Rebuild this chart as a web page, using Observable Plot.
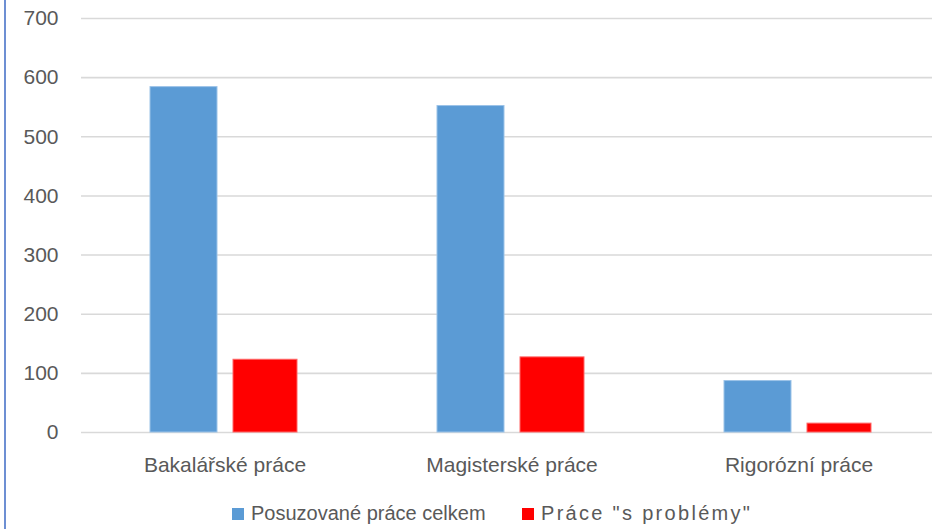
<!DOCTYPE html>
<html>
<head>
<meta charset="utf-8">
<script src="https://cdn.jsdelivr.net/npm/d3@7"></script>
<script src="https://cdn.jsdelivr.net/npm/@observablehq/plot@0.6"></script>
<style>
  html, body { margin: 0; padding: 0; background: #fff; }
  #wrap { position: relative; width: 932px; height: 529px; overflow: hidden; font-family: "Liberation Sans", Arial, sans-serif; }
  #border { position: absolute; left: 4px; top: 0; width: 2px; height: 529px; background: #6d8fd3; }
  #legend { position: absolute; top: 502px; left: 0; width: 932px; font-size: 20px; color: #595959; }
  .item { position: absolute; top: 0; display: flex; align-items: center; white-space: nowrap; }
  .sw { width: 12px; height: 12px; margin-right: 7px; }
</style>
</head>
<body>
<div id="wrap">
  <div id="chart"></div>
  <div id="border"></div>
  <div id="legend"></div>
</div>
<script>
const categories = ["Bakalářské práce", "Magisterské práce", "Rigorózní práce"];
const seriesNames = ["Posuzované práce celkem", "Práce \"s problémy\""];
const totalValues = [584, 552, 87];
const problemValues = [123, 127, 15];
const yTicks = [0, 100, 200, 300, 400, 500, 600, 700];
const colors = ["#5B9BD5", "#FF0000"];

const total = categories.map((c, i) => ({category: c, value: totalValues[i]}));
const problems = categories.map((c, i) => ({category: c, value: problemValues[i]}));

const chart = Plot.plot({
  width: 932,
  height: 490,
  marginLeft: 81,
  marginRight: 0,
  marginTop: 18,
  marginBottom: 58,
  style: {fontFamily: "'Liberation Sans', Arial, sans-serif", fontSize: "21px", color: "#595959", background: "#fff"},
  x: {domain: categories, range: [81, 942], padding: 0},
  y: {domain: [0, 700], ticks: yTicks},
  marks: [
    Plot.ruleY(yTicks, {stroke: "#d9d9d9", strokeWidth: 1.6}),
    Plot.barY(total, {x: "category", y: "value", fill: colors[0], stroke: "#9cc3e8", strokeWidth: 1, insetLeft: 69, insetRight: 151}),
    Plot.barY(problems, {x: "category", y: "value", fill: colors[1], stroke: "#ff6666", strokeWidth: 1, insetLeft: 152, insetRight: 71}),
    Plot.axisY({ticks: yTicks, tickSize: 0, tickPadding: 23, label: null, fill: "#595959"}),
    Plot.axisX({tickSize: 0, tickPadding: 25, label: null, fill: "#595959"})
  ]
});
document.getElementById("chart").appendChild(chart);

const legend = document.getElementById("legend");
const lefts = [232, 522];
const spacing = ["0px", "2.3px"];
seriesNames.forEach((name, i) => {
  const it = document.createElement("div");
  it.className = "item";
  it.style.left = lefts[i] + "px";
  const sw = document.createElement("div");
  sw.className = "sw";
  sw.style.background = colors[i];
  const tx = document.createElement("span");
  tx.textContent = name;
  tx.style.letterSpacing = spacing[i];
  it.appendChild(sw);
  it.appendChild(tx);
  legend.appendChild(it);
});
</script>
</body>
</html>
